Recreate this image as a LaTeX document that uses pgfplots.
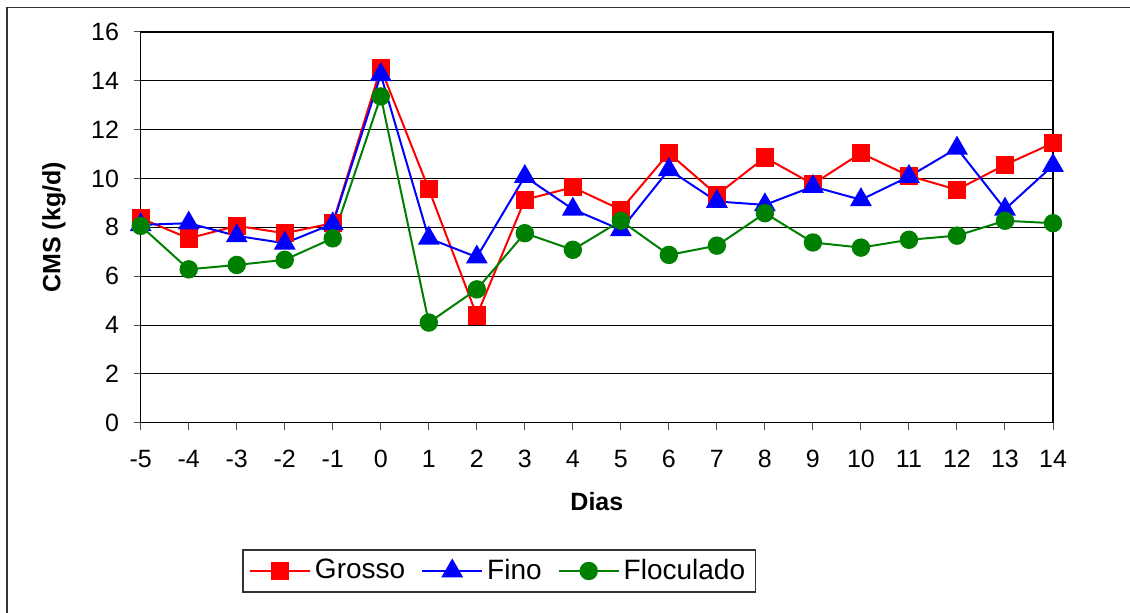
\documentclass[border=0pt]{standalone}
\usepackage{pgfplots}
\pgfplotsset{compat=1.18}
\usepackage{fontspec}
\setmainfont{Liberation Sans}
\definecolor{cred}{RGB}{255,0,0}
\definecolor{cblue}{RGB}{0,0,255}
\definecolor{cgreen}{RGB}{0,128,0}
\begin{document}
\fontsize{12.5}{15}\selectfont
\begin{tikzpicture}
\useasboundingbox (0,0) rectangle (565pt,306.5pt);
\fill[white] (0,0) rectangle (565pt,306.5pt);
\draw[black!80, line width=0.8pt] (3.5pt,0) -- (3.5pt,302.75pt) -- (565pt,302.75pt);
\begin{axis}[
  at={(70.35pt,95.15pt)}, anchor=south west,
  scale only axis, width=456.15pt, height=195.35pt,
  xmin=-5, xmax=14, ymin=0, ymax=16,
  xtick={-5,...,14}, ytick={0,2,...,16},
  tick pos=left, tick align=outside,
  major tick length=3.5pt,
  every tick/.style={black!70, line width=0.5pt},
  ymajorgrids, major grid style={black, line width=0.5pt},
  axis line style={black, line width=0.6pt},
  /pgf/number format/assume math mode=true,
  ticklabel style={font=\fontsize{12.5}{15}\selectfont},
  xticklabel style={yshift=-6pt},
  yticklabel style={xshift=-3pt},
  xlabel={\bfseries Dias},
  ylabel={\bfseries CMS (kg/d)},
  label style={font=\fontsize{12.5}{15}\selectfont},
  xlabel style={at={(axis description cs:0.5,-0.203)}, anchor=center},
  ylabel style={at={(axis description cs:-0.0950,0.5)}, anchor=center},
  legend columns=3,
  legend style={at={(axis description cs:0.3928,-0.3796)}, anchor=center,
    draw=black!80, line width=0.6pt, font=\fontsize{14}{16}\selectfont,
    inner xsep=3pt, inner ysep=2.5pt,
    /tikz/every odd column/.append style={column sep=0pt},
    /tikz/every even column/.append style={column sep=6pt}},
  legend image code/.code={\draw[mark repeat=2,mark phase=2,#1] plot coordinates {(0pt,0pt)(15pt,0pt)(30pt,0pt)};},
]
\addplot[cred, line width=1pt, mark=square*, mark size=4.1pt, mark options={solid}] coordinates {
(-5,8.37) (-4,7.55) (-3,8.06) (-2,7.76) (-1,8.17) (0,14.52) (1,9.56) (2,4.39) (3,9.13) (4,9.64)
(5,8.72) (6,11.04) (7,9.33) (8,10.86) (9,9.77) (10,11.04) (11,10.11) (12,9.54) (13,10.56) (14,11.45)};
\addlegendentry{Grosso}
\addplot[cblue, line width=1pt, mark=triangle*, mark size=5.3pt, mark options={solid}] coordinates {
(-5,8.1) (-4,8.17) (-3,7.65) (-2,7.35) (-1,8.14) (0,14.25) (1,7.55) (2,6.78) (3,10.08) (4,8.74)
(5,7.9) (6,10.36) (7,9.06) (8,8.92) (9,9.67) (10,9.13) (11,10.08) (12,11.24) (13,8.74) (14,10.53)};
\addlegendentry{Fino}
\addplot[cgreen, line width=1pt, mark=*, mark size=4.1pt, mark options={solid}] coordinates {
(-5,8.06) (-4,6.28) (-3,6.46) (-2,6.67) (-1,7.55) (0,13.36) (1,4.10) (2,5.46) (3,7.76) (4,7.08)
(5,8.27) (6,6.87) (7,7.25) (8,8.58) (9,7.38) (10,7.17) (11,7.49) (12,7.66) (13,8.27) (14,8.17)};
\addlegendentry{Floculado}
\end{axis}
\end{tikzpicture}
\end{document}
